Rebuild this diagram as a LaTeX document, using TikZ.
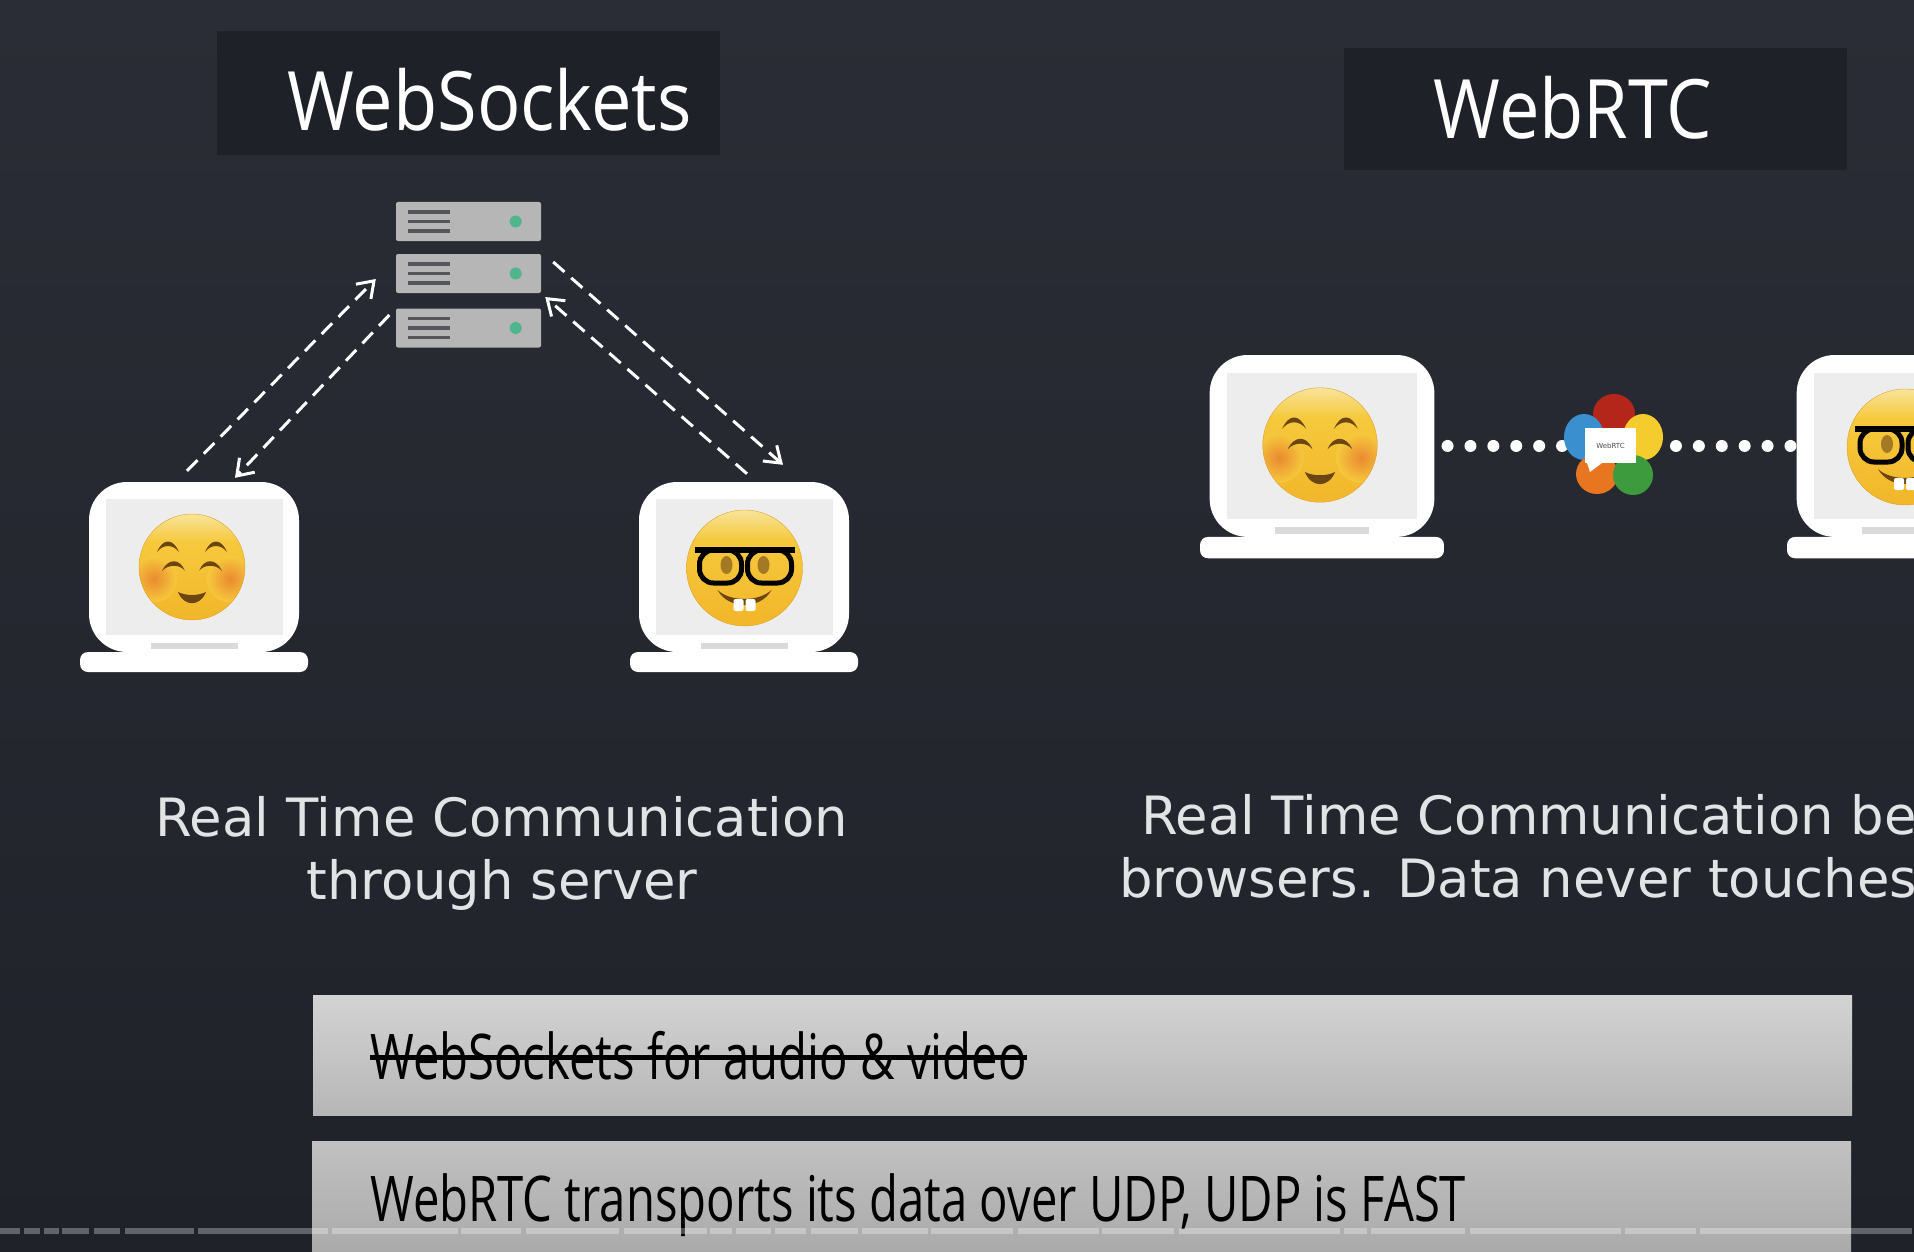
\documentclass[tikz,border=0pt]{standalone}
\usepackage{fontspec}
\usetikzlibrary{arrows.meta,shapes.geometric}
\setmainfont{DejaVu Sans}
\newfontfamily\titlefont[FakeStretch=0.88]{Open Sans}
\newfontfamily\barfont[FakeStretch=0.75]{Open Sans}
\definecolor{bgtop}{HTML}{2B2D36}
\definecolor{bgmid}{HTML}{292B33}
\definecolor{bgbot}{HTML}{1F2229}
\definecolor{titlebox}{HTML}{1F2129}
\definecolor{bodytext}{HTML}{E2E3E5}
\definecolor{srvgrey}{HTML}{B6B6B6}
\definecolor{srvdark}{HTML}{55565A}
\definecolor{srvgreen}{HTML}{4FB58C}
\definecolor{screen}{HTML}{EDEDED}
\definecolor{notch}{HTML}{DADADA}
\definecolor{emojitop}{HTML}{F8E49A}
\definecolor{emojimid}{HTML}{F6C93C}
\definecolor{emojilow}{HTML}{F2B62A}
\definecolor{emojiedge}{HTML}{DFA02A}
\definecolor{emojibrown}{HTML}{6B4512}
\definecolor{blush}{HTML}{EA8A30}
\definecolor{petalred}{HTML}{B5261A}
\definecolor{petalblue}{HTML}{3A8FCF}
\definecolor{petalyellow}{HTML}{F5CC2E}
\definecolor{petalorange}{HTML}{E8751F}
\definecolor{petalgreen}{HTML}{3D9B3E}
\pgfdeclareverticalshading{emojiface}{100bp}{color(0bp)=(emojilow); color(25bp)=(emojilow); color(62bp)=(emojimid); color(75bp)=(emojitop); color(100bp)=(emojitop)}
\tikzset{
  smiley/.pic={
    \begin{scope}
      \clip (0,0) circle[radius=53];
      \shade[shading=emojiface] (0,0) circle[radius=53];
      \shade[inner color=blush,outer color=emojimid] (-38,12) circle[radius=23];
      \shade[inner color=blush,outer color=emojimid] (38,12) circle[radius=23];
    \end{scope}
    \draw[emojiedge] (0,0) circle[radius=53];
    \foreach \sx in {-1,1} {
      \begin{scope}[xscale=\sx]
        \fill[emojibrown] (13,-15) .. controls (19,-29) and (29,-29) .. (35,-15) .. controls (29,-23) and (19,-23) .. cycle;
        \fill[emojibrown] (7,4) .. controls (12,-9) and (24,-9) .. (30,4) .. controls (24,-3) and (12,-3) .. cycle;
      \end{scope}
    }
    \fill[emojibrown] (-14,25) .. controls (-6,29) and (6,29) .. (14,25) .. controls (8,40) and (-8,40) .. cycle;
  },
  nerd/.pic={
    \shade[shading=emojiface] (0,0) circle[radius=58];
    \draw[emojiedge] (0,0) circle[radius=58];
    \fill[emojibrown!60!emojimid] (-18,-3) ellipse[x radius=6,y radius=9];
    \fill[emojibrown!60!emojimid] (19,-3) ellipse[x radius=6,y radius=9];
    \draw[black,line width=5pt,rounded corners=14pt] (-45,-18) rectangle (-3,15);
    \draw[black,line width=5pt,rounded corners=14pt] (3,-18) rectangle (47,15);
    \draw[black,line width=6pt] (-50,-18) -- (50,-18);
    \fill[emojibrown] (-27,22) .. controls (-14,34) and (14,34) .. (27,22) .. controls (16,42) and (-16,42) .. cycle;
    \fill[white,rounded corners=2pt] (-11,31) rectangle (-1,43);
    \fill[white,rounded corners=2pt] (1,31) rectangle (11,43);
  }
}
\begin{document}
\begin{tikzpicture}[x=1pt,y=-1pt]
    \tikzstyle{titlebg}=[rectangle,fill=titlebox,minimum width=503pt,inner sep=0pt]
    \tikzstyle{srv}=[rectangle,rounded corners=2pt,fill=srvgrey,minimum width=145pt,minimum height=39pt,inner sep=0pt]
    \tikzstyle{srvline}=[srvdark,line width=3.5pt]
    \tikzstyle{flow}=[white,line width=3pt,dash pattern=on 15pt off 9pt,->,>={Straight Barb[length=15pt,width=21pt]}]
    \tikzstyle{dots}=[white,line width=12pt,line cap=round,dash pattern=on 0pt off 22.9pt]
    \tikzstyle{strip}=[rectangle,inner sep=0pt,minimum width=1539pt]
    \tikzstyle{stripfont}=[font=\barfont\fontsize{63}{70}\selectfont,text=black,inner sep=0pt,anchor=base west]
    \tikzstyle{body}=[font=\fontsize{52.8}{63}\selectfont,text=bodytext,inner sep=0pt]
    \tikzstyle{heading}=[font=\titlefont\fontsize{82}{90}\selectfont,text=white,inner sep=0pt]

    \clip (0,0) rectangle (1914,1252);
    \shade[top color=bgtop,middle color=bgmid,bottom color=bgbot] (0,0) rectangle (1914,1252);

    \node[titlebg,minimum height=124pt] (wsbox) at (468.5,93) {};
    \node[titlebg,minimum height=122pt] (rtcbox) at (1595,109) {};
    \node[heading] (wstitle) at (489.5,100) {WebSockets};
    \node[heading] (rtctitle) at (1573,108) {WebRTC};

    \node[srv] (srv1) at (468.5,221.5) {};
    \node[srv] (srv2) at (468.5,273.5) {};
    \node[srv] (srv3) at (468.5,328) {};
    \foreach \n in {1,2,3} {
      \foreach \d in {-9.5,0,9.5}
        \draw[srvline] ([shift={(12,\d)}]srv\n.west) -- ++(42,0);
      \fill[srvgreen] ([xshift=-25.5pt]srv\n.east) circle[radius=6];
    }

    \foreach \name/\cx/\top/\s in {lapL/194/482/1,lapR/744/482/1,lapC/1322/355/1.07,lapD/1909/355/1.07} {
      \node[rectangle,fill=white,rounded corners=38pt,inner sep=0pt,minimum width=\s*210pt,minimum height=\s*170pt] (\name) at (\cx,\top+85*\s) {};
      \node[rectangle,fill=screen,inner sep=0pt,minimum width=\s*177pt,minimum height=\s*136pt] (\name screen) at (\cx,\top+85*\s) {};
      \node[rectangle,fill=notch,inner sep=0pt,minimum width=\s*87pt,minimum height=\s*6pt] (\name notch) at (\cx,\top+164*\s) {};
      \node[rectangle,fill=white,rounded corners=8pt,inner sep=0pt,minimum width=\s*228pt,minimum height=\s*20pt] (\name base) at (\cx,\top+180*\s) {};
    }

    \pic (faceL) at (192,567) {smiley};
    \pic (faceR) at (744.5,568) {nerd};
    \pic[scale=1.08] (faceC) at (1320,445) {smiley};
    \pic (faceD) at (1905,447) {nerd};

    \draw[flow] ([shift={(-7,-11)}]lapL.north) -- ([shift={(-20,5.5)}]srv2.west);
    \draw[flow] ([shift={(-6.5,-13)}]srv3.west) -- ([shift={(41,-4)}]lapL.north);
    \draw[flow] ([shift={(12,-11.5)}]srv2.east) -- ([shift={(39,-17)}]lapR.north);
    \draw[flow] ([shift={(3,-8)}]lapR.north) -- ([shift={(4,23.5)}]srv2.east);

    \coordinate (rtc) at (1611,446);
    \draw[dots] ([xshift=13pt]lapC.east) -- (rtc);
    \draw[dots] ([xshift=-6pt]lapD.west) -- (rtc);

    \fill[petalred] (1614,414) ellipse[x radius=21,y radius=20];
    \fill[petalblue] (1584,437) ellipse[x radius=20,y radius=23];
    \fill[petalyellow] (1643,437) ellipse[x radius=20,y radius=23];
    \fill[petalorange] (1597,474) ellipse[x radius=21,y radius=20];
    \fill[petalgreen] (1633,475) ellipse[x radius=20,y radius=20];
    \fill[white] (1586,460) -- (1590,472) -- (1606,460) -- cycle;
    \node[rectangle,fill=white,inner sep=0pt,minimum width=51pt,minimum height=35pt,font=\fontsize{7}{8}\selectfont,text=black!70] (logo) at (1610.5,445.5) {WebRTC};

    \node[body,align=center] (wstext) at (502,853) {Real Time Communication\\through server};
    \node[body,anchor=base west] (rtcline1) at (1141,834) {Real Time Communication be};
    \node[body,anchor=base west] (rtcline2) at (1119,897) {browsers. Data never touches};

    \node[strip,top color=srvgrey!60!white,bottom color=srvgrey,minimum height=120pt] (oldbar) at (1082.5,1055) {};
    \node[strip,top color=srvgrey!85!white,bottom color=srvgrey!92!black,minimum height=124pt] (newbar) at (1081.5,1203) {};
    \node[stripfont] (oldtext) at (370,1079) {WebSockets for audio \& video};
    \node[stripfont] (newtext) at (370,1221) {WebRTC transports its data over UDP, UDP is FAST};
    \draw[black,line width=5pt] ([yshift=-2pt]oldtext.west) -- ([yshift=-2pt]oldtext.east);

    \foreach \a/\b in {0/20,24/40,44/59,62/89,94/120,125/194,198/328,332/458,461/521,526/619,624/707,710/732,736/771,775/806,811/858,862/928,931/1013,1018/1099,1102/1174,1179/1340,1344/1367,1371/1465,1470/1621,1625/1696,1700/1912}
      \fill[white,opacity=.3] (\a,1228) rectangle (\b,1234);
\end{tikzpicture}
\end{document}
